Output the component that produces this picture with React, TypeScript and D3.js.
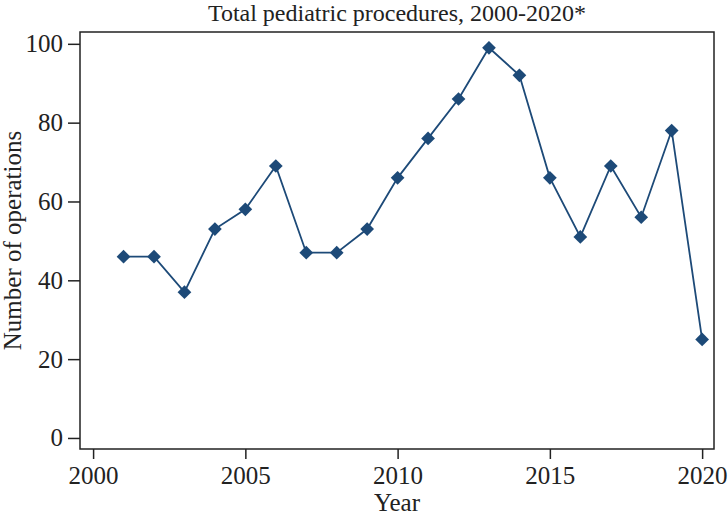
import { useEffect, useRef } from "react";
import * as d3 from "d3";

const years = [2001, 2002, 2003, 2004, 2005, 2006, 2007, 2008, 2009, 2010, 2011, 2012, 2013, 2014, 2015, 2016, 2017, 2018, 2019, 2020];
const operations = [46, 46, 37, 53, 58, 69, 47, 47, 53, 66, 76, 86, 99, 92, 66, 51, 69, 56, 78, 25];
const xTicks = [2000, 2005, 2010, 2015, 2020];
const yTicks = [0, 20, 40, 60, 80, 100];

const W = 728;
const H = 516;
const FONT = "'Liberation Serif', 'Times New Roman', serif";
const BLUE = "#1d4a78";
const INK = "#222";

const App = () => {
  const ref = useRef<SVGSVGElement | null>(null);

  useEffect(() => {
    if (!ref.current) return;
    const svg = d3.select(ref.current);
    svg.selectAll("*").remove();

    const left = 80, right = 714, top = 32, bottom = 449;

    const x = d3.scaleLinear().domain([1999.57, 2020.39]).range([left, right]);
    const y = d3.scaleLinear().domain([-2.8, 103]).range([bottom, top]);

    svg
      .append("rect")
      .attr("x", left)
      .attr("y", top)
      .attr("width", right - left)
      .attr("height", bottom - top)
      .attr("fill", "none")
      .attr("stroke", INK)
      .attr("stroke-width", 1.5);

    const xAxis = svg
      .append("g")
      .attr("transform", `translate(0,${bottom})`)
      .call(d3.axisBottom(x).tickValues(xTicks).tickFormat(d3.format("d")).tickSize(10).tickPadding(7));
    const yAxis = svg
      .append("g")
      .attr("transform", `translate(${left},0)`)
      .call(d3.axisLeft(y).tickValues(yTicks).tickSize(12).tickPadding(5));

    [xAxis, yAxis].forEach((g) => {
      g.select(".domain").remove();
      g.selectAll(".tick line").attr("stroke", INK).attr("stroke-width", 1.5);
      g.selectAll(".tick text")
        .attr("fill", INK)
        .style("font-family", FONT)
        .style("font-size", "25px");
    });

    const line = d3
      .line<number>()
      .x((_, i) => x(years[i]))
      .y((d) => y(d));

    svg
      .append("path")
      .datum(operations)
      .attr("fill", "none")
      .attr("stroke", BLUE)
      .attr("stroke-width", 1.8)
      .attr("d", line);

    const diamond = d3.symbol().type(d3.symbolDiamond2).size(120);
    svg
      .selectAll("path.pt")
      .data(operations)
      .enter()
      .append("path")
      .attr("class", "pt")
      .attr("transform", (d, i) => `translate(${x(years[i])},${y(d)})`)
      .attr("d", diamond)
      .attr("fill", BLUE);

    svg
      .append("text")
      .attr("x", (left + right) / 2)
      .attr("y", 21)
      .attr("text-anchor", "middle")
      .attr("fill", INK)
      .style("font-family", FONT)
      .style("font-size", "24px")
      .text("Total pediatric procedures, 2000-2020*");

    svg
      .append("text")
      .attr("x", (left + right) / 2)
      .attr("y", 511)
      .attr("text-anchor", "middle")
      .attr("fill", INK)
      .style("font-family", FONT)
      .style("font-size", "25px")
      .text("Year");

    svg
      .append("text")
      .attr("transform", `translate(21,${(top + bottom) / 2}) rotate(-90)`)
      .attr("text-anchor", "middle")
      .attr("fill", INK)
      .style("font-family", FONT)
      .style("font-size", "25px")
      .text("Number of operations");
  }, []);

  return (
    <svg
      ref={ref}
      width={W}
      height={H}
      style={{ position: "absolute", left: 0, top: 0, background: "#fff" }}
    />
  );
};

export default App;
